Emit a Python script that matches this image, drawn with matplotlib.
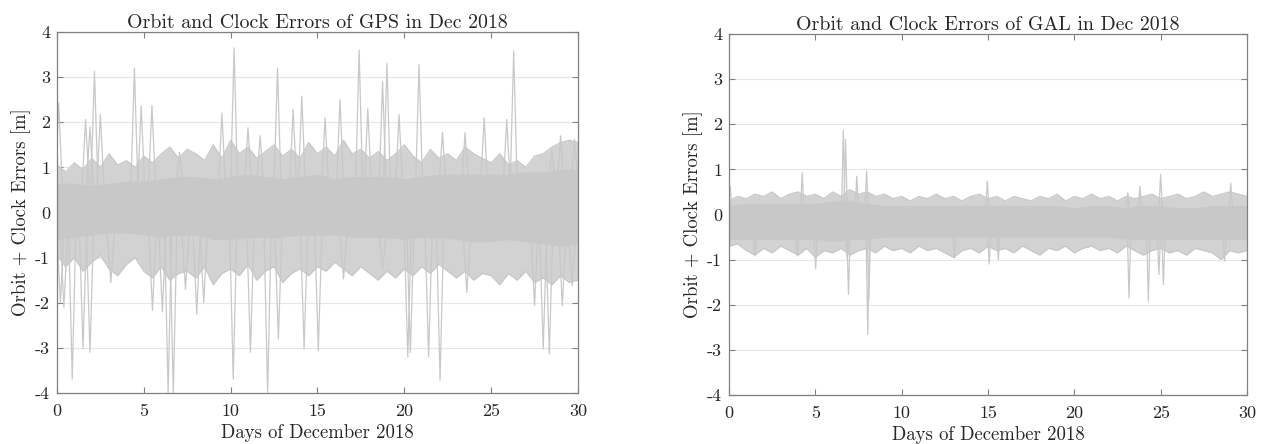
import matplotlib
matplotlib.use("Agg")
import matplotlib.pyplot as plt

plt.rcParams["font.family"] = "serif"
plt.rcParams["font.serif"] = ["cmr10"]
plt.rcParams["mathtext.fontset"] = "cm"
plt.rcParams["axes.unicode_minus"] = False

LINE = "#c8c8c8"

# dense band, one value per day (0..30)
days = list(range(31))
gps_core_top = [0.65, 0.65, 0.6, 0.65, 0.7, 0.7, 0.75, 0.8, 0.8, 0.75, 0.8, 0.85, 0.8, 0.75, 0.8, 0.85,
                0.75, 0.8, 0.8, 0.8, 0.75, 0.8, 0.85, 0.85, 0.85, 0.85, 0.85, 0.9, 0.9, 0.95, 0.95]
gps_core_bot = [-0.6, -0.55, -0.5, -0.45, -0.45, -0.5, -0.55, -0.5, -0.5, -0.6, -0.6, -0.55, -0.55, -0.55,
                -0.5, -0.5, -0.5, -0.55, -0.55, -0.55, -0.6, -0.55, -0.55, -0.6, -0.65, -0.65, -0.6,
                -0.65, -0.7, -0.75, -0.7]
gal_core_top = [0.2, 0.25, 0.25, 0.25, 0.25, 0.25, 0.3, 0.3, 0.25, 0.2, 0.2, 0.2, 0.2, 0.2, 0.2, 0.2,
                0.2, 0.2, 0.2, 0.2, 0.15, 0.2, 0.2, 0.15, 0.2, 0.2, 0.15, 0.15, 0.2, 0.2, 0.2]
gal_core_bot = [-0.55, -0.55, -0.55, -0.55, -0.55, -0.55, -0.6, -0.55, -0.55, -0.5, -0.5, -0.5, -0.5,
                -0.5, -0.5, -0.5, -0.5, -0.5, -0.5, -0.5, -0.5, -0.5, -0.5, -0.55, -0.55, -0.55, -0.55,
                -0.55, -0.55, -0.55, -0.55]

# outer edge of the band, every half day
half_days = [d / 2 for d in range(61)]
gps_fringe_hi = [1.05, 0.9, 1.1, 0.95, 1.2, 1.0, 1.3, 1.05, 1.15, 1.0,
                 1.25, 1.1, 1.3, 1.45, 1.2, 1.4, 1.3, 1.15, 1.5, 1.2,
                 1.6, 1.3, 1.45, 1.2, 1.35, 1.5, 1.25, 1.4, 1.2, 1.55,
                 1.3, 1.45, 1.25, 1.6, 1.3, 1.4, 1.2, 1.35, 1.15, 1.3,
                 1.5, 1.25, 1.1, 1.4, 1.2, 1.3, 1.15, 1.45, 1.3, 1.2,
                 1.1, 1.3, 1.05, 1.15, 1.0, 1.25, 1.3, 1.45, 1.55, 1.6, 1.55]
gps_fringe_lo = [-0.95, -1.2, -1.0, -1.3, -1.1, -0.95, -1.25, -1.4, -1.15, -1.0,
                 -1.3, -1.45, -1.2, -1.5, -1.35, -1.3, -1.45, -1.2, -1.6, -1.35,
                 -1.25, -1.4, -1.15, -1.5, -1.3, -1.2, -1.55, -1.35, -1.25, -1.4,
                 -1.2, -1.3, -1.1, -1.25, -1.4, -1.2, -1.35, -1.5, -1.3, -1.45,
                 -1.25, -1.4, -1.2, -1.35, -1.15, -1.3, -1.45, -1.3, -1.5, -1.35,
                 -1.4, -1.6, -1.35, -1.5, -1.3, -1.55, -1.45, -1.6, -1.4, -1.55, -1.5]
gal_fringe_hi = [0.3, 0.4, 0.35, 0.45, 0.4, 0.5, 0.35, 0.45, 0.5, 0.4,
                 0.45, 0.35, 0.5, 0.4, 0.55, 0.45, 0.5, 0.4, 0.45, 0.35,
                 0.4, 0.3, 0.4, 0.35, 0.45, 0.35, 0.4, 0.3, 0.4, 0.45,
                 0.35, 0.4, 0.3, 0.4, 0.35, 0.3, 0.4, 0.35, 0.45, 0.3,
                 0.4, 0.35, 0.45, 0.35, 0.4, 0.3, 0.4, 0.35, 0.4, 0.45,
                 0.35, 0.4, 0.45, 0.35, 0.4, 0.5, 0.4, 0.45, 0.5, 0.45, 0.4]
gal_fringe_lo = [-0.7, -0.65, -0.8, -0.9, -0.75, -0.85, -0.7, -0.8, -0.9, -0.75,
                 -0.95, -0.8, -0.85, -0.75, -0.9, -0.8, -0.75, -0.85, -0.7, -0.8,
                 -0.75, -0.85, -0.7, -0.8, -0.75, -0.85, -0.95, -0.8, -0.75, -0.85,
                 -0.7, -0.8, -0.75, -0.85, -0.7, -0.8, -0.9, -0.75, -0.8, -0.7,
                 -0.85, -0.75, -0.7, -0.8, -0.75, -0.85, -0.7, -0.8, -0.9, -0.8,
                 -0.75, -0.85, -0.8, -0.9, -0.75, -0.8, -0.85, -1.0, -0.8, -0.85, -0.8]

# isolated excursions (day, peak value)
gps_up_day = [0.1, 1.65, 1.9, 2.16, 2.5, 4.46, 4.85, 5.47, 7.06, 9.5, 10.2, 11.0, 11.7, 12.7, 13.6, 14.1,
              15.44, 16.3, 17.4, 17.9, 18.75, 19.0, 19.7, 20.85, 22.2, 23.5, 24.6, 25.9, 26.3, 28.5,
              29.0, 29.8]
gps_up_val = [2.43, 2.06, 1.9, 3.13, 2.17, 3.2, 2.36, 2.37, 1.33, 2.2, 3.65, 1.88, 1.7, 3.2, 2.29, 2.58,
              2.1, 2.5, 3.6, 2.3, 2.9, 3.3, 2.17, 3.28, 1.77, 1.77, 2.1, 2.06, 3.58, 1.4, 1.7, 1.62]
gps_dn_day = [0.2, 0.4, 0.88, 1.5, 1.9, 3.1, 5.5, 6.07, 6.4, 6.7, 7.4, 8.05, 8.45, 10.15, 11.14, 12.13,
              12.75, 14.23, 15.05, 16.5, 18.75, 20.2, 20.35, 21.4, 22.06, 23.6, 27.5, 28.0, 28.35,
              29.1, 29.67]
gps_dn_val = [-2.0, -2.1, -3.69, -3.02, -3.1, -1.55, -2.17, -2.2, -4.0, -4.0, -1.7, -2.25, -2.0, -3.69,
              -3.1, -4.0, -2.8, -3.02, -3.06, -1.47, -1.25, -3.2, -3.1, -3.2, -3.72, -1.77, -2.06,
              -3.02, -3.13, -2.06, -1.62]

gal_up_day = [0.07, 4.24, 6.62, 6.75, 7.4, 7.97, 14.96, 23.1, 23.8, 25.0, 29.06]
gal_up_val = [0.63, 0.92, 1.87, 1.66, 0.85, 0.96, 0.74, 0.48, 0.63, 0.89, 0.7]
gal_dn_day = [1.5, 3.95, 5.02, 6.85, 6.92, 8.04, 8.1, 13.06, 15.07, 15.6, 23.17, 24.29, 24.9, 25.16, 28.7]
gal_dn_val = [-0.92, -0.92, -1.2, -1.0, -1.77, -2.66, -1.88, -0.96, -1.1, -1.0, -1.85, -1.92, -1.33,
              -1.55, -1.03]


def draw_spikes(ax, spike_days, spike_vals, base, half_width):
    for d, v in zip(spike_days, spike_vals):
        ax.plot([d - half_width, d, d + half_width], [base, v, base], color=LINE, linewidth=0.9)


def draw_panel(ax, core_top, core_bot, fringe_hi, fringe_lo, up, dn, base_hi, base_lo, width, title):
    ax.fill_between(half_days, fringe_lo, fringe_hi, color="#d2d2d2", linewidth=0)
    ax.plot(half_days, fringe_hi, color=LINE, linewidth=0.9)
    ax.plot(half_days, fringe_lo, color=LINE, linewidth=0.9)
    ax.fill_between(days, core_bot, core_top, color=LINE, linewidth=0)
    draw_spikes(ax, up[0], up[1], base_hi, width)
    draw_spikes(ax, dn[0], dn[1], base_lo, width)

    ax.set_xlim(0, 30)
    ax.set_ylim(-4, 4)
    ax.set_xticks(range(0, 31, 5))
    ax.set_yticks(range(-4, 5))
    ax.grid(True, axis="y", color="#e6e6e6", linewidth=0.8)
    ax.set_axisbelow(True)
    ax.tick_params(direction="in", top=True, right=True, length=4, width=0.8,
                   color="#808080", labelcolor="#262626", labelsize=13)
    ax.tick_params(axis="x", pad=8)
    ax.tick_params(axis="y", pad=5)
    for spine in ax.spines.values():
        spine.set_color("#808080")
        spine.set_linewidth(0.9)
    ax.set_xlabel("Days of December 2018", fontsize=13.5, color="#262626", labelpad=3)
    ax.set_ylabel("Orbit + Clock Errors [m]", fontsize=13.5, color="#262626", labelpad=3)
    ax.set_title(title, fontsize=14.3, color="#262626", pad=3)


fig = plt.figure(figsize=(12.63, 4.44), dpi=100)
ax1 = fig.add_axes([0.0451, 0.1149, 0.4125, 0.813])
ax2 = fig.add_axes([0.5772, 0.1104, 0.4101, 0.813])

draw_panel(ax1, gps_core_top, gps_core_bot, gps_fringe_hi, gps_fringe_lo,
           (gps_up_day, gps_up_val), (gps_dn_day, gps_dn_val), 0.6, -0.5, 0.2,
           "Orbit and Clock Errors of GPS in Dec 2018")
draw_panel(ax2, gal_core_top, gal_core_bot, gal_fringe_hi, gal_fringe_lo,
           (gal_up_day, gal_up_val), (gal_dn_day, gal_dn_val), 0.1, -0.4, 0.1,
           "Orbit and Clock Errors of GAL in Dec 2018")

fig.savefig("out.png", dpi=100)
